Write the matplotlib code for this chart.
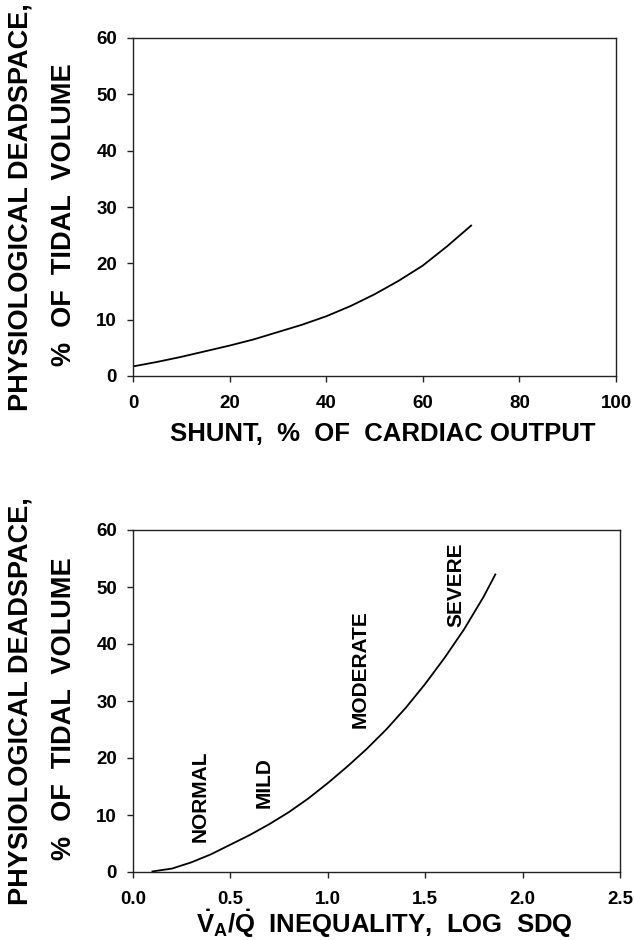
import matplotlib
matplotlib.use("Agg")
import matplotlib.pyplot as plt
import numpy as np

# ---- data ----
shunt_x = [0, 5, 10, 15, 20, 25, 30, 35, 40, 45, 50, 55, 60, 65, 70]
shunt_y = [1.7, 2.5, 3.4, 4.4, 5.4, 6.5, 7.8, 9.1, 10.6, 12.4, 14.5, 16.9, 19.6, 23.0, 26.7]

sdq_x = [0.1, 0.2, 0.3, 0.4, 0.5, 0.6, 0.7, 0.8, 0.9, 1.0, 1.1, 1.2, 1.3, 1.4, 1.5, 1.6, 1.7, 1.8, 1.86]
sdq_y = [0.1, 0.6, 1.7, 3.1, 4.8, 6.5, 8.4, 10.5, 12.9, 15.6, 18.5, 21.6, 25.0, 28.8, 33.0, 37.6, 42.6, 48.3, 52.2]

region_labels = ["NORMAL", "MILD", "MODERATE", "SEVERE"]
region_x = [0.347, 0.674, 1.165, 1.658]
region_y = [5.3, 11.2, 25.2, 43.0]

top_xticks = [0, 20, 40, 60, 80, 100]
bot_xticks = [0.0, 0.5, 1.0, 1.5, 2.0, 2.5]
yticks = [0, 10, 20, 30, 40, 50, 60]

ylabel1 = "PHYSIOLOGICAL DEADSPACE,"
ylabel2 = "%  OF  TIDAL  VOLUME"
xlabel_top = "SHUNT,  %  OF  CARDIAC OUTPUT"
xlabel_bot = r"$\dot{\mathbf{V}}_{\mathbf{A}}/\dot{\mathbf{Q}}$  INEQUALITY,  LOG  SDQ"

plt.rcParams['font.family'] = ['Liberation Sans', 'DejaVu Sans']
plt.rcParams['font.weight'] = 'bold'
plt.rcParams['mathtext.fontset'] = 'custom'
plt.rcParams['mathtext.bf'] = 'Liberation Sans:bold'
plt.rcParams['mathtext.rm'] = 'Liberation Sans:bold'
plt.rcParams['mathtext.it'] = 'Liberation Sans:bold'

W, H = 634, 940
fig = plt.figure(figsize=(W / 100, H / 100), dpi=100)

def px_axes(l, r, t, b):
    return [l / W, 1 - b / H, (r - l) / W, (b - t) / H]

ax1 = fig.add_axes(px_axes(133, 616, 38, 376))
ax2 = fig.add_axes(px_axes(133, 620, 530, 872))

for ax in (ax1, ax2):
    for s in ax.spines.values():
        s.set_linewidth(1.0)
        s.set_color('#222222')
    ax.tick_params(axis='both', direction='out', length=4, width=1.0, color='#222222',
                   labelsize=13.5)
    ax.tick_params(axis='x', pad=10)
    ax.tick_params(axis='y', pad=7.5)
    ax.set_ylim(0, 60)
    ax.set_yticks(yticks)

ax1.plot(shunt_x, shunt_y, color='black', lw=1.3, solid_joinstyle='round')
ax1.set_xlim(0, 100)
ax1.set_xticks(top_xticks)
ax1.set_xticklabels([str(v) for v in top_xticks], fontweight='bold')
ax1.set_yticklabels([str(v) for v in yticks], fontweight='bold')

ax2.plot(sdq_x, sdq_y, color='black', lw=1.3, solid_joinstyle='round')
ax2.set_xlim(0, 2.5)
ax2.set_xticks(bot_xticks)
ax2.set_xticklabels([f"{v:.1f}" for v in bot_xticks], fontweight='bold')
ax2.set_yticklabels([str(v) for v in yticks], fontweight='bold')

for lab, x, y in zip(region_labels, region_x, region_y):
    ax2.text(x, y, lab, rotation=90, ha='center', va='bottom', fontsize=15,
             fontweight='bold')

# y labels (two lines each)
for cy in (207, 701):
    fig.text(21 / W, 1 - cy / H, ylabel1, rotation=90, ha='center', va='center',
             fontsize=19.5, fontweight='bold')
    fig.text(64 / W, 1 - (cy + 8) / H, ylabel2, rotation=90, ha='center', va='center',
             fontsize=19.5, fontweight='bold')

fig.text(383 / W, 1 - 434 / H, xlabel_top, ha='center', va='center',
         fontsize=18.5, fontweight='bold')
fig.text(384 / W, 1 - 924 / H, xlabel_bot, ha='center', va='center',
         fontsize=18.5, fontweight='bold')

fig.savefig("out.png", dpi=100)
